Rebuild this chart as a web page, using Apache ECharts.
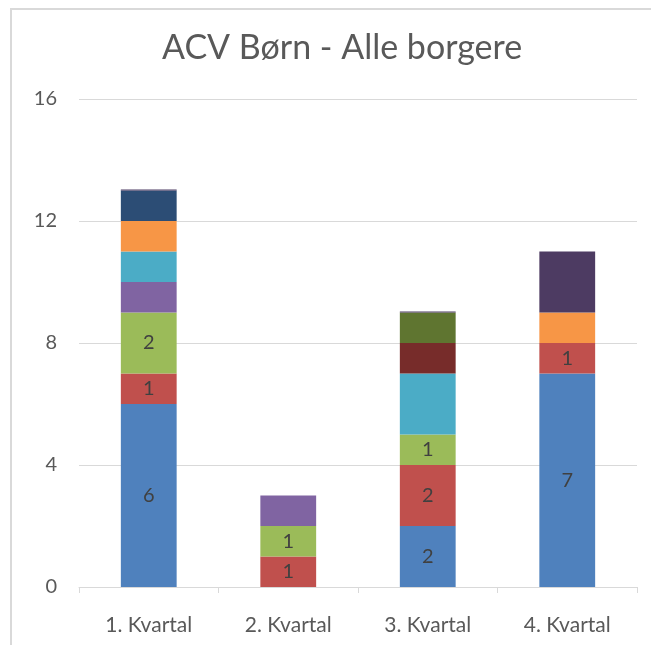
<!DOCTYPE html>
<html>
<head>
<meta charset="utf-8">
<script src="https://cdn.jsdelivr.net/npm/echarts@6/dist/echarts.min.js"></script>
<style>
  html, body { margin: 0; padding: 0; background: #fff; }
  #chart { width: 651px; height: 645px; }
</style>
</head>
<body>
<div id="chart"></div>
<script>
// kategorier og værdier
var categories = ['1. Kvartal', '2. Kvartal', '3. Kvartal', '4. Kvartal'];
var blue = [6, 0, 2, 7];
var red = [1, 1, 2, 1];
var green = [2, 1, 1, 0];
var purple = [1, 1, 0, 0];
var teal = [1, 0, 2, 0];
var orange = [1, 0, 0, 1];
var darkBlue = [1, 0, 0, 0];
var darkRed = [0, 0, 1, 0];
var darkGreen = [0, 0, 1, 0];
var darkPurple = [0.03, 0, 0.03, 2];
var yTicks = [0, 4, 8, 12, 16];

var seriesList = [
  { data: blue, color: '#4F81BD', label: true },
  { data: red, color: '#C0504D', label: true },
  { data: green, color: '#9BBB59', label: true },
  { data: purple, color: '#8064A2', label: false },
  { data: teal, color: '#4BACC6', label: false },
  { data: orange, color: '#F79646', label: false },
  { data: darkBlue, color: '#2C4D75', label: false },
  { data: darkRed, color: '#772C2A', label: false },
  { data: darkGreen, color: '#5F7530', label: false },
  { data: darkPurple, color: '#4D3B62', label: false }
];

var font = 'Lato, "Open Sans", sans-serif';

var chart = echarts.init(document.getElementById('chart'));
var option = {
  animation: false,
  backgroundColor: '#fff',
  title: {
    text: 'ACV Børn - Alle borgere',
    left: 157,
    top: 26,
    textStyle: { fontFamily: font, fontSize: 34, fontWeight: 'normal', color: '#595959' }
  },
  graphic: [{
    type: 'rect',
    shape: { x: 11, y: 9, width: 700, height: 700 },
    style: { fill: 'none', stroke: '#D9D9D9', lineWidth: 2 },
    silent: true
  }],
  grid: { left: 79, right: 14, top: 99, bottom: 58 },
  xAxis: {
    type: 'category',
    data: categories,
    axisLine: { lineStyle: { color: '#D9D9D9', width: 1 } },
    axisTick: { show: true, length: 6, lineStyle: { color: '#D9D9D9' } },
    axisLabel: { fontFamily: font, fontSize: 21, color: '#595959', margin: 28 }
  },
  yAxis: {
    type: 'value',
    min: yTicks[0],
    max: yTicks[yTicks.length - 1],
    interval: 4,
    axisLine: { show: false },
    axisTick: { show: false },
    splitLine: { lineStyle: { color: '#D9D9D9', width: 1 } },
    axisLabel: { fontFamily: font, fontSize: 20, color: '#595959', margin: 22 }
  },
  series: seriesList.map(function (s) {
    return {
      type: 'bar',
      stack: 'total',
      barWidth: '40%',
      data: s.data,
      itemStyle: { color: s.color },
      label: {
        show: s.label,
        position: 'inside',
        fontFamily: font,
        fontSize: 20,
        color: '#404040',
        formatter: function (p) { return p.value ? p.value : ''; }
      }
    };
  })
};
chart.setOption(option);
</script>
</body>
</html>
